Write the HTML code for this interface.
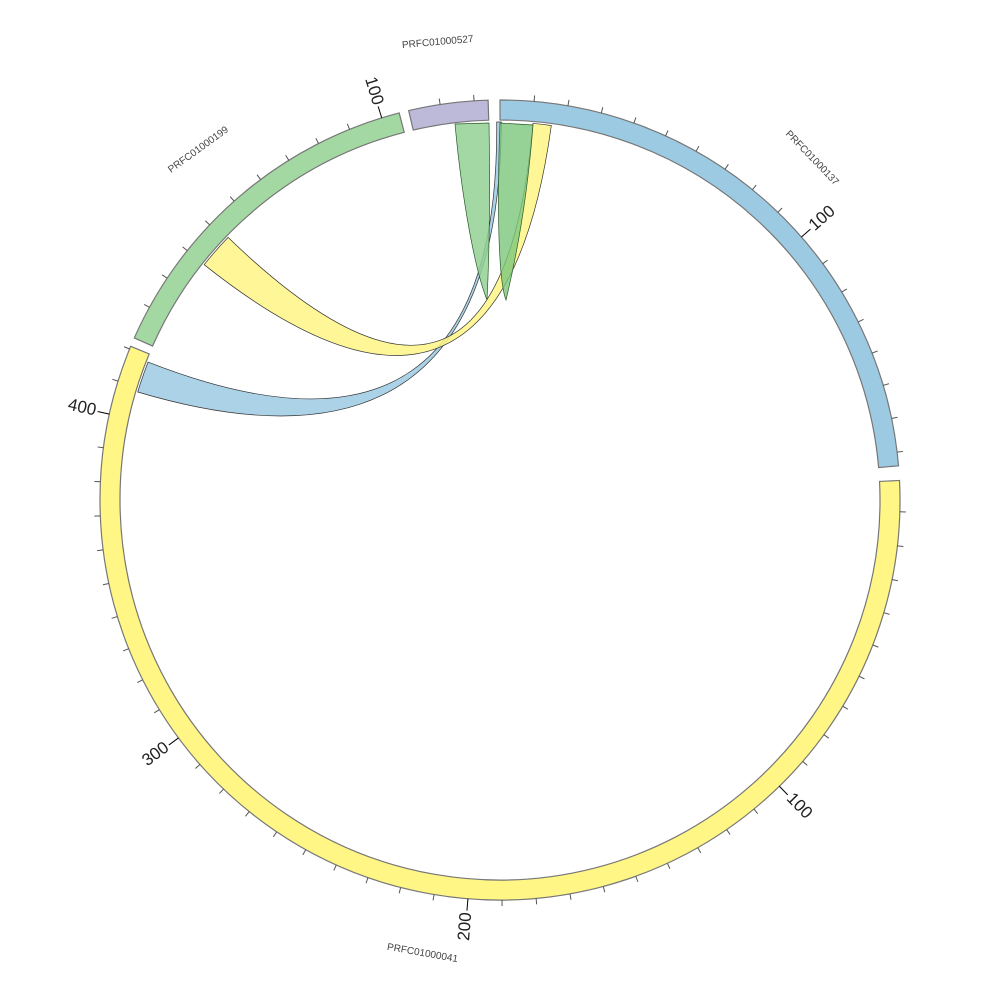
<!DOCTYPE html>
<html><head><meta charset="utf-8"><style>body{margin:0;background:#fff}svg{display:block}</style></head>
<body>
<svg id="s" width="1000" height="1000" viewBox="0 0 1000 1000" xmlns="http://www.w3.org/2000/svg" font-family="Liberation Sans, sans-serif"></svg>
<script>
const cx=500,cy=500,R1=380,R2=400;
function P(a,r){const t=a*Math.PI/180;return [cx+r*Math.sin(t),cy-r*Math.cos(t)];}
let h='';
function seg(a0,a1,fill){const p1=P(a0,R2),p2=P(a1,R2),p3=P(a1,R1),p4=P(a0,R1);const lg=(a1-a0)>180?1:0;
h+=`<path d="M${p1} A${R2},${R2} 0 ${lg} 1 ${p2} L${p3} A${R1},${R1} 0 ${lg} 0 ${p4} Z" fill="${fill}" stroke="#777" stroke-width="1.2"/>`;}
function ticks(zero,a0,a1){for(let i=0;i<200;i++){const a=zero+i*4.89;if(a>a1)break;if(a<a0+0.5)continue;
const maj=i%10==0&&i>0;const p=P(a,R2),q=P(a,R2+(maj?12:6));h+=`<line x1="${p[0]}" y1="${p[1]}" x2="${q[0]}" y2="${q[1]}" stroke="${maj?'#000':'#555'}" stroke-width="1"/>`;
if(maj){const l=P(a,R2+28);let rot=a>180?a+90:a-90;h+=`<text x="${l[0]}" y="${l[1]}" font-size="17" fill="#222" text-anchor="middle" dominant-baseline="middle" transform="rotate(${rot} ${l[0]} ${l[1]})">${i*10}</text>`;}}}
seg(0,85.1,'#9ccae3');seg(87.2,292.6,'#fff685');seg(293.9,345.4,'#a3d8a3');seg(346.8,358.3,'#bcb9d9');
ticks(0,0,85.1);ticks(86.8,87.2,292.6);ticks(293.9,293.9,345.4);ticks(346.5,346.8,358.3);
function chord(a0,a1,b0,b1,fill){const r=378;const p1=P(a0,r),p2=P(a1,r),p3=P(b0,r),p4=P(b1,r);
h+=`<path d="M${p1} A${r},${r} 0 0 1 ${p2} Q${cx},${cy} ${p3} A${r},${r} 0 0 1 ${p4} Q${cx},${cy} ${p1} Z" fill="${fill}" fill-opacity="0.85" stroke="#333" stroke-width="0.7"/>`;}
chord(286.6,291.4,359.5,0.2,'#9ccae3');
chord(308.5,314,5.0,7.8,'#fff685');
h+=`<path d="M455,124 C462,200 475,270 487,300 C490,240 490,180 489,123 Z" fill="#93d093" fill-opacity="0.85" stroke="#2a5a2a" stroke-width="0.7"/>`;
h+=`<path d="M500,123 C497,200 498,280 506,300 C518,250 528,190 533,125 Z" fill="#7cc57c" fill-opacity="0.8" stroke="#2a5a2a" stroke-width="0.7"/>`;
function lab(x,y,r,t){h+=`<text x="${x}" y="${y}" font-size="10" fill="#444" text-anchor="middle" transform="rotate(${r} ${x} ${y})">${t}</text>`;}
lab(438,45,-5,'PRFC01000527');lab(810,160,46,'PRFC01000137');lab(200,152,-36,'PRFC01000199');lab(422,956,10,'PRFC01000041');
document.getElementById('s').innerHTML=h;
</script>
</body></html>
